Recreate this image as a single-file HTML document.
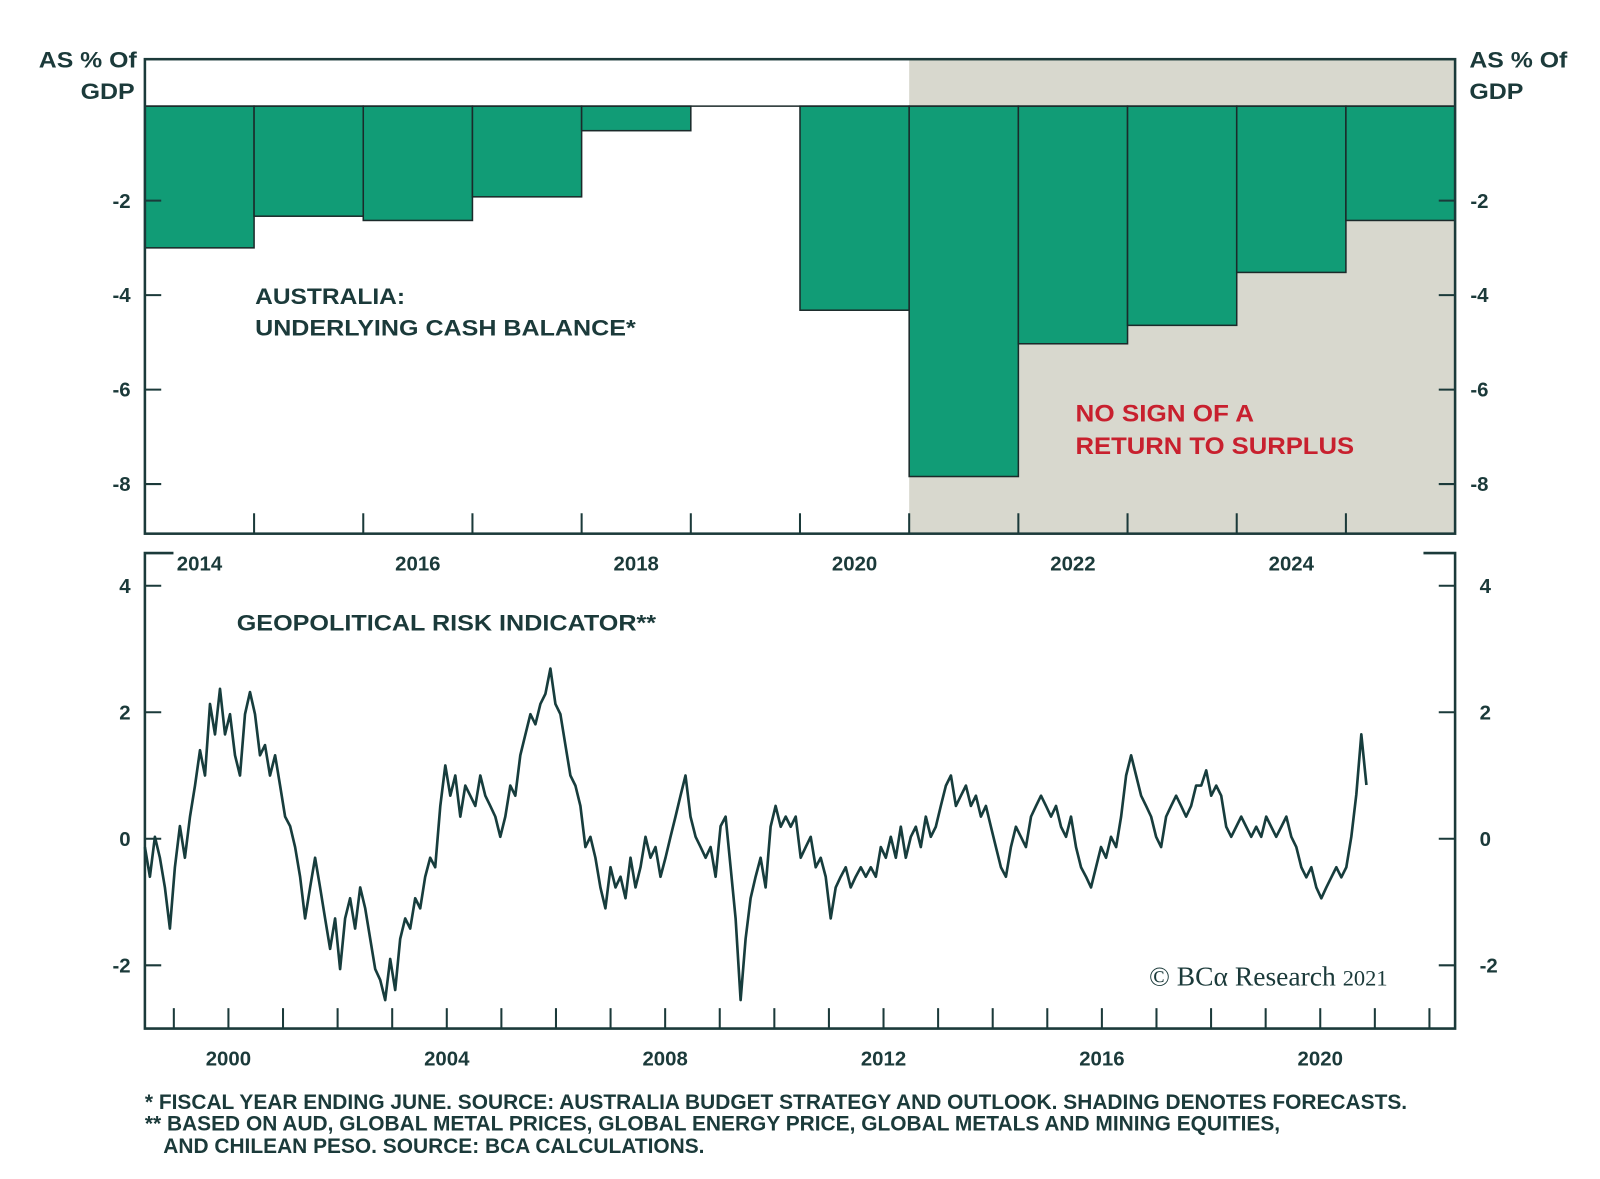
<!DOCTYPE html>
<html><head><meta charset="utf-8"><style>
body{margin:0;background:#fff}
svg{display:block;font-family:"Liberation Sans",sans-serif;font-weight:bold}
</style></head><body>
<svg id="chart" width="1600" height="1179" viewBox="0 0 1600 1179">
<g transform="scale(1.0204)">
<g id="topPanel"></g>
<g id="bottomPanel"></g>
<text x="142" y="1087" font-size="20.5" fill="#1b3a3a">*  FISCAL YEAR ENDING JUNE. SOURCE: AUSTRALIA BUDGET STRATEGY AND OUTLOOK. SHADING DENOTES FORECASTS.</text>
<text x="142" y="1108" font-size="20.5" fill="#1b3a3a">** BASED ON AUD, GLOBAL METAL PRICES, GLOBAL ENERGY PRICE, GLOBAL METALS AND MINING EQUITIES,</text>
<text x="160" y="1130" font-size="20.5" fill="#1b3a3a">AND CHILEAN PESO. SOURCE: BCA CALCULATIONS.</text>
</g>
</svg>
<script>
const barYears=[2014,2015,2016,2017,2018,2019,2020,2021,2022,2023,2024,2025];
const barValues=[-3.0,-2.33,-2.42,-1.92,-0.52,0,-4.32,-7.84,-5.03,-4.64,-3.52,-2.42];
const forecastStart=2021;
const topTicks=[-2,-4,-6,-8];
const topYearLabels=[2014,2016,2018,2020,2022,2024];
const riskStartYear=1998.47;
const riskStepYears=0.0917;
const riskValues=[-0.13,-0.6,0.03,-0.3,-0.77,-1.42,-0.45,0.2,-0.3,0.35,0.84,1.4,1.0,2.13,1.65,2.37,1.65,1.97,1.32,1.0,1.97,2.32,1.97,1.32,1.48,1.0,1.32,0.84,0.35,0.2,-0.13,-0.6,-1.26,-0.77,-0.3,-0.77,-1.26,-1.74,-1.26,-2.06,-1.26,-0.94,-1.42,-0.77,-1.1,-1.58,-2.06,-2.23,-2.55,-1.9,-2.39,-1.58,-1.26,-1.42,-0.94,-1.1,-0.6,-0.3,-0.45,0.52,1.16,0.68,1.0,0.35,0.84,0.68,0.52,1.0,0.68,0.52,0.35,0.03,0.35,0.84,0.68,1.32,1.65,1.97,1.81,2.13,2.29,2.69,2.13,1.97,1.48,1.0,0.84,0.52,-0.13,0.03,-0.3,-0.77,-1.1,-0.45,-0.77,-0.6,-0.94,-0.3,-0.77,-0.45,0.03,-0.3,-0.13,-0.6,-0.3,0.03,0.35,0.68,1.0,0.35,0.03,-0.13,-0.3,-0.13,-0.6,0.2,0.35,-0.45,-1.26,-2.55,-1.58,-0.94,-0.6,-0.3,-0.77,0.19,0.52,0.19,0.35,0.19,0.35,-0.3,-0.13,0.03,-0.45,-0.3,-0.6,-1.26,-0.77,-0.6,-0.45,-0.77,-0.6,-0.45,-0.6,-0.45,-0.6,-0.13,-0.3,0.03,-0.3,0.19,-0.3,0.03,0.19,-0.13,0.35,0.03,0.19,0.52,0.84,1.0,0.52,0.68,0.84,0.52,0.68,0.35,0.52,0.19,-0.13,-0.45,-0.6,-0.13,0.19,0.03,-0.13,0.35,0.52,0.68,0.52,0.35,0.52,0.19,0.03,0.35,-0.13,-0.45,-0.6,-0.77,-0.45,-0.13,-0.3,0.03,-0.13,0.35,1.0,1.32,1.0,0.68,0.52,0.35,0.03,-0.13,0.35,0.52,0.68,0.52,0.35,0.52,0.84,0.84,1.08,0.68,0.84,0.68,0.19,0.03,0.19,0.35,0.19,0.03,0.19,0.03,0.35,0.19,0.03,0.19,0.35,0.03,-0.13,-0.45,-0.61,-0.45,-0.77,-0.94,-0.77,-0.61,-0.45,-0.61,-0.45,0.03,0.7,1.65,0.85];
const bottomTicks=[4,2,0,-2];
const bottomYearLabels=[2000,2004,2008,2012,2016,2020];

const NS='http://www.w3.org/2000/svg';
const INK='#1b3a3a';
function mk(parent,tag,attrs,text){const e=document.createElementNS(NS,tag);for(const k in attrs)e.setAttribute(k,attrs[k]);if(text!==undefined)e.textContent=text;parent.appendChild(e);return e;}

// ---- top panel ----
const tp=document.getElementById('topPanel');
const L=142,R=1426,T=58,B=523;
const bw=(R-L)/barYears.length;
const bx=y=>L+(y-barYears[0])*bw;
const by=v=>104-v*46.3;
let e=mk(tp,'rect',{x:bx(forecastStart),y:T,width:R-bx(forecastStart),height:B-T,fill:'#d8d8ce'});


barValues.forEach((v,i)=>{
  const r=mk(tp,'rect',{x:bx(barYears[i]),y:by(0),width:bw,height:Math.max(0,by(v)-by(0)),fill:'#119c76',stroke:'#1b2a2a','stroke-width':1.5});
  
  
});
mk(tp,'line',{x1:L,x2:R,y1:by(0),y2:by(0),stroke:'#1b2a2a','stroke-width':1.5});
e=mk(tp,'rect',{x:L,y:T,width:R-L,height:B-T,fill:'none',stroke:INK,'stroke-width':2.5});


topTicks.forEach(t=>{
  const y=by(t);
  mk(tp,'line',{x1:L,x2:L+16,y1:y,y2:y,stroke:INK,'stroke-width':2});
  mk(tp,'line',{x1:R-16,x2:R,y1:y,y2:y,stroke:INK,'stroke-width':2});
  let a=mk(tp,'text',{x:128,y:y+7,'font-size':20,fill:INK,'text-anchor':'end'},String(t));
  
  
  a=mk(tp,'text',{x:1441,y:y+7,'font-size':20,fill:INK},String(t));
  
  
});
for(let i=1;i<barYears.length;i++){mk(tp,'line',{x1:bx(barYears[i]),x2:bx(barYears[i]),y1:B,y2:B-20,stroke:INK,'stroke-width':2});}
topYearLabels.forEach(y=>{
  const a=mk(tp,'text',{x:bx(y)+bw/2,y:559,'font-size':20,fill:INK,'text-anchor':'middle'},String(y));
  
  
});
[['AS % Of',38,66,96],['GDP',79,97,53],['AS % Of',1440,66,96],['GDP',1440,97,53]].forEach(([t,x,y,w],i)=>{
  const a=mk(tp,'text',{x:x,y:y,'font-size':22,fill:INK,textLength:w,lengthAdjust:'spacingAndGlyphs'},t);
  
  
});
e=mk(tp,'text',{x:250,y:298,'font-size':22,fill:INK,textLength:147,lengthAdjust:'spacingAndGlyphs'},'AUSTRALIA:');


e=mk(tp,'text',{x:250,y:329,'font-size':22,fill:INK,textLength:373,lengthAdjust:'spacingAndGlyphs'},'UNDERLYING CASH BALANCE*');


e=mk(tp,'text',{x:1054,y:413,'font-size':24,fill:'#c8202e',textLength:175,lengthAdjust:'spacingAndGlyphs'},'NO SIGN OF A');


e=mk(tp,'text',{x:1054,y:445,'font-size':24,fill:'#c8202e',textLength:273,lengthAdjust:'spacingAndGlyphs'},'RETURN TO SURPLUS');



// ---- bottom panel ----
const bp=document.getElementById('bottomPanel');
const B2=1008,T2=542;
const X0=1998.47,pxPerYr=53.5;
const rx=y=>L+(y-X0)*pxPerYr;
const ry=v=>822-v*62;
e=mk(bp,'path',{d:`M170 ${T2} H${L} V${B2} H${R} V${T2} H1395`,fill:'none',stroke:INK,'stroke-width':2.5});


bottomTicks.forEach(t=>{
  const y=ry(t);
  mk(bp,'line',{x1:L,x2:L+16,y1:y,y2:y,stroke:INK,'stroke-width':2});
  mk(bp,'line',{x1:R-16,x2:R,y1:y,y2:y,stroke:INK,'stroke-width':2});
  let a=mk(bp,'text',{x:128,y:y+7,'font-size':20,fill:INK,'text-anchor':'end'},String(t));
  
  
  a=mk(bp,'text',{x:1450,y:y+7,'font-size':20,fill:INK},String(t));
  
  
});
for(let y=1999;y<=2022;y++){mk(bp,'line',{x1:rx(y),x2:rx(y),y1:B2,y2:B2-20,stroke:INK,'stroke-width':2});}
bottomYearLabels.forEach(y=>{
  const a=mk(bp,'text',{x:rx(y),y:1044,'font-size':20,fill:INK,'text-anchor':'middle'},String(y));
  
  
});
let d='';
riskValues.forEach((v,i)=>{d+=(i?'L':'M')+rx(riskStartYear+i*riskStepYears).toFixed(1)+' '+ry(v).toFixed(1);});
e=mk(bp,'path',{d:d,fill:'none',stroke:'#173d3d','stroke-width':2.6,'stroke-linejoin':'round'});


e=mk(bp,'text',{x:232,y:618,'font-size':22,fill:INK,textLength:411,lengthAdjust:'spacingAndGlyphs'},'GEOPOLITICAL RISK INDICATOR**');


e=mk(bp,'text',{x:1126,y:966,'font-size':27,fill:INK,'font-weight':'normal','font-family':'"Liberation Serif",serif'},'© BCα Research ');


mk(e,'tspan',{'font-size':22},'2021');
</script>
</body></html>
